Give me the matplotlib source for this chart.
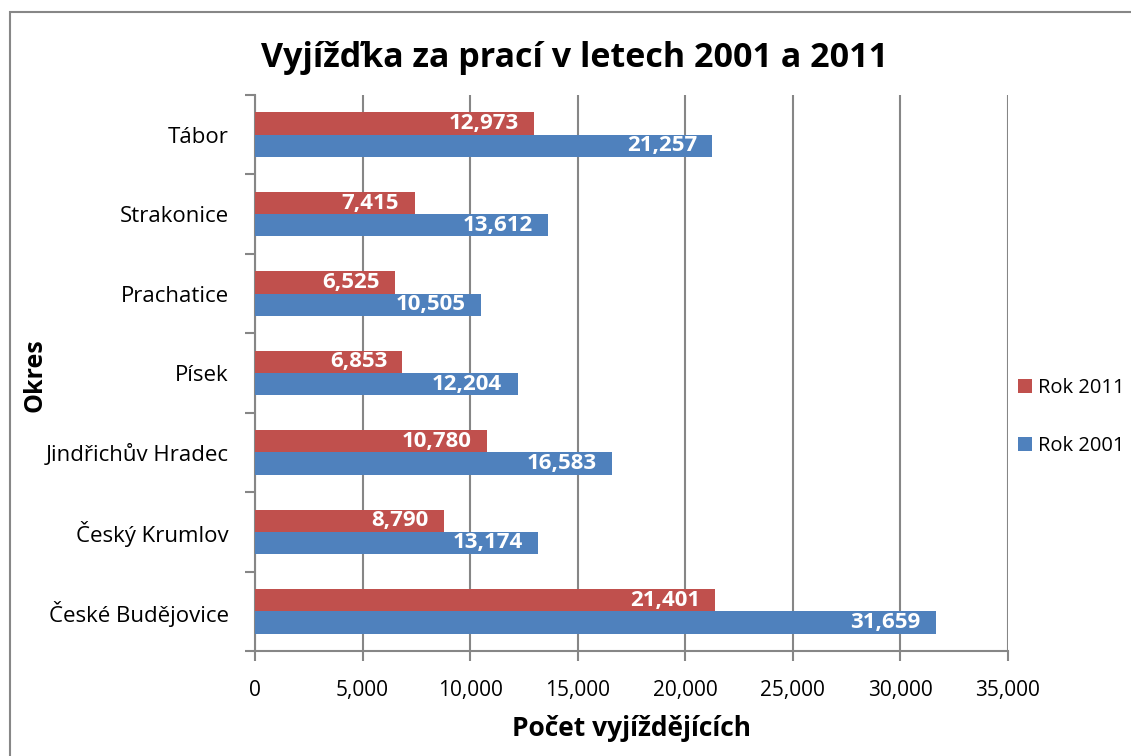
import matplotlib.pyplot as plt
from matplotlib.patches import Rectangle
import numpy as np

plt.rcParams['font.family'] = ['Open Sans', 'DejaVu Sans']

okresy = ['České Budějovice', 'Český Krumlov', 'Jindřichův Hradec', 'Písek',
          'Prachatice', 'Strakonice', 'Tábor']
rok_2001 = [31659, 13174, 16583, 12204, 10505, 13612, 21257]
rok_2011 = [21401, 8790, 10780, 6853, 6525, 7415, 12973]

red = '#C0504D'
blue = '#4F81BD'
grid_col = '#868686'

fig = plt.figure(figsize=(11.31, 7.56), dpi=100)
ax = fig.add_axes([255 / 1131, 1 - 651 / 756, 753 / 1131, 556 / 756])

# outer chart border (cut off at right and bottom like the original)
fig.patches.append(Rectangle((10 / 1131, -0.1), 1.2, 1 - 12 / 756 + 0.1,
                             transform=fig.transFigure, fill=False,
                             edgecolor='#878787', linewidth=1.5))

y = np.arange(len(okresy))
h = 0.28
b11 = ax.barh(y + 0.14, rok_2011, height=h, color=red, label='Rok 2011', zorder=3)
b01 = ax.barh(y - 0.14, rok_2001, height=h, color=blue, label='Rok 2001', zorder=3)

for bars, vals in [(b11, rok_2011), (b01, rok_2001)]:
    for bar, v in zip(bars, vals):
        ax.annotate(f'{v:,}', (v, bar.get_y() + bar.get_height() / 2),
                    xytext=(-11, 0), textcoords='offset points',
                    ha='right', va='center', color='white',
                    fontsize=16, fontweight='bold', zorder=4)

ax.set_xlim(0, 35000)
ax.set_ylim(-0.5, len(okresy) - 0.5)
ax.set_xticks(np.arange(0, 35001, 5000))
ax.set_xticklabels([f'{t:,}' for t in range(0, 35001, 5000)], fontsize=15)
ax.grid(axis='x', color=grid_col, linewidth=1.5, zorder=0)

ax.set_yticks(np.arange(-0.5, len(okresy), 1))
ax.set_yticklabels([])
ax.set_yticks(y, minor=True)
ax.set_yticklabels(okresy, minor=True, fontsize=16)
ax.tick_params(axis='y', which='minor', length=0, pad=19)
ax.tick_params(axis='y', which='major', length=7, width=1.5, color=grid_col, direction='out')
ax.tick_params(axis='x', length=7, width=1.5, color=grid_col, pad=14)

for s in ['top', 'right']:
    ax.spines[s].set_visible(False)
for s in ['left', 'bottom']:
    ax.spines[s].set_color(grid_col)
    ax.spines[s].set_linewidth(1.5)

ax.set_xlabel('Počet vyjíždějících', fontsize=19, fontweight='bold', labelpad=10)
fig.text(35 / 1131, 1 - 375 / 756, 'Okres', rotation=90, fontsize=18,
         fontweight='bold', ha='center', va='center')
fig.text(575 / 1131, 1 - 58 / 756, 'Vyjížďka za prací v letech 2001 a 2011',
         fontsize=24.5, fontweight='bold', ha='center', va='center')

fig.legend(handles=[b11, b01], loc='center left',
           bbox_to_anchor=(1000 / 1131, 1 - 417 / 756), frameon=False,
           fontsize=14.5, handlelength=0.7, handleheight=0.7, labelspacing=1.9,
           handletextpad=0.3)

fig.savefig('out.png', dpi=100)
